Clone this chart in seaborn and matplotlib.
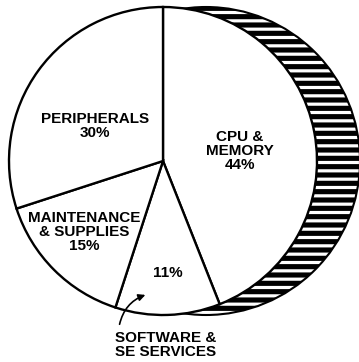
import numpy as np
import matplotlib
matplotlib.use("Agg")
import matplotlib.pyplot as plt
import seaborn as sns
from matplotlib.patches import Circle

# -----------------------------------
# DATA
# -----------------------------------

categories = ["CPU &\nMEMORY", "SOFTWARE &\nSE SERVICES", "MAINTENANCE\n& SUPPLIES", "PERIPHERALS"]
shares = [44, 11, 15, 30]
pct_labels = ["44%", "11%", "15%", "30%"]

# -----------------------------------
# STYLE
# -----------------------------------

sns.set_theme(style="white")
plt.rcParams['font.family'] = ['Liberation Sans', 'DejaVu Sans']
plt.rcParams['hatch.linewidth'] = 2.3

H = 362  # image height, used to flip y so positions read like the scan

fig = plt.figure(figsize=(3.59, 3.62), dpi=100)
ax = fig.add_axes([0, 0, 1, 1])

cx, cy, r = 163, H - 161, 154
depth = 43

# back face of the "coin" (hatched side)
back = Circle((cx + depth, cy), r, facecolor="black", edgecolor="white",
              hatch="--", linewidth=0, zorder=1)
ax.add_patch(back)
ax.add_patch(Circle((cx + depth, cy), r, facecolor="none", edgecolor="black",
                    linewidth=1.5, zorder=2))

# front pie
wedges, _ = ax.pie(shares, startangle=90, counterclock=False,
                   center=(cx, cy), radius=r,
                   colors=["white"] * len(shares),
                   wedgeprops=dict(edgecolor="black", linewidth=1.7))
for w in wedges:
    w.set_zorder(3)

txt = dict(ha="center", va="center", multialignment="center",
           fontsize=11, fontweight="bold", color="black",
           linespacing=1.0, zorder=5)

ax.text(240, H - 151, categories[0] + "\n" + pct_labels[0], **txt)
ax.text(95, H - 126, categories[3] + "\n" + pct_labels[3], **txt)
ax.text(84, H - 232, categories[2] + "\n" + pct_labels[2], **txt)
ax.text(168, H - 273, pct_labels[1], **txt)
ax.text(166, H - 345, categories[1], **txt)

# arrow pointing from the outside label into the small slice
ax.annotate("", xy=(148, H - 294), xytext=(119, H - 327),
            arrowprops=dict(arrowstyle="-|>", color="black", lw=1.2,
                            mutation_scale=10,
                            connectionstyle="arc3,rad=-0.3"),
            zorder=6)

ax.set_xlim(0, 359)
ax.set_ylim(0, H)
ax.set_aspect("equal")
ax.axis("off")

plt.savefig("out.png", dpi=100)
